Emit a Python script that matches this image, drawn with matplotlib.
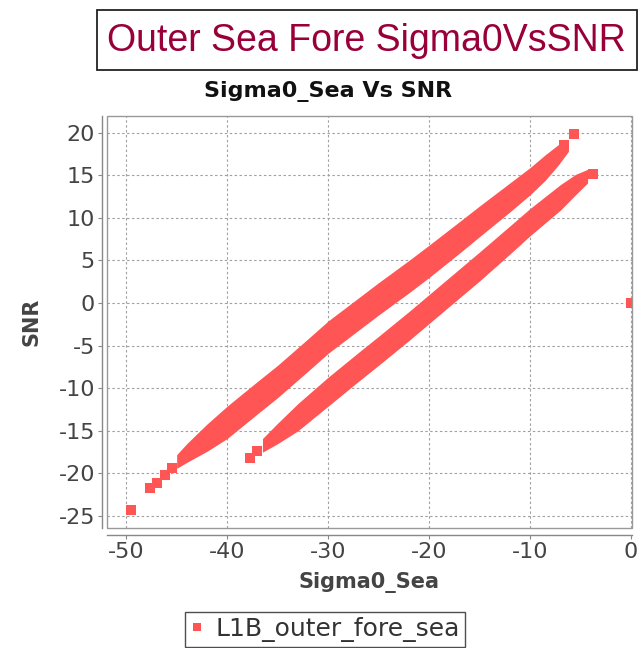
import matplotlib
matplotlib.use("Agg")
import matplotlib.pyplot as plt
from matplotlib.patches import Rectangle
from matplotlib.lines import Line2D

plt.rcParams["axes.unicode_minus"] = False
plt.rcParams["font.family"] = ["DejaVu Sans"]

# ── data ────────────────────────────────────────────────────────────────
# upper (dense) band: visual envelope
upper_x = [-45.0, -44.0, -42.0, -40.0, -37.0, -35.0, -32.0, -30.0, -27.0, -25.0,
           -22.0, -20.0, -17.0, -15.0, -12.0, -10.0, -8.5, -7.2, -6.2]
upper_top = [-17.8, -16.5, -14.2, -12.1, -9.2, -7.3, -4.2, -2.1, 0.6, 2.4,
             5.0, 6.8, 9.55, 11.4, 14.1, 15.9, 17.4, 18.6, 19.0]
upper_bot = [-19.4, -18.7, -17.4, -15.9, -13.0, -11.1, -8.0, -5.9, -3.2, -1.4,
             1.2, 3.0, 5.85, 7.8, 10.7, 12.7, 14.4, 16.2, 17.8]

# lower band: visual envelope
lower_x = [-36.5, -35.0, -33.0, -30.0, -27.0, -25.0, -22.0, -20.0, -17.0, -15.0,
           -12.0, -10.0, -7.0, -5.5, -4.3]
lower_top = [-15.9, -14.1, -11.8, -8.7, -5.8, -3.9, -1.0, 1.0, 4.0, 6.0,
             9.05, 11.1, 13.9, 15.1, 15.7]
lower_bot = [-17.5, -16.5, -15.0, -12.1, -9.2, -7.3, -4.4, -2.4, 0.6, 2.6,
             5.75, 7.9, 10.9, 12.7, 14.1]

# isolated samples (tails, ends and outliers)
pts_x = [-49.5, -47.6, -46.9, -46.2, -45.5, -6.6, -5.6, -37.7, -37.0, -3.8, 0.0]
pts_y = [-24.3, -21.7, -21.1, -20.2, -19.3, 18.5, 19.9, -18.2, -17.4, 15.2, 0.0]

x_ticks = [-50, -40, -30, -20, -10, 0]
y_ticks = [-25, -20, -15, -10, -5, 0, 5, 10, 15, 20]

RED = "#FF5555"
W, H = 643, 648

fig = plt.figure(figsize=(W / 100, H / 100), dpi=100)
ax = fig.add_axes([107 / W, 1 - 528 / H, (632 - 107) / W, (528 - 116) / H])

ax.fill_between(upper_x, upper_bot, upper_top, color=RED, linewidth=0, zorder=3)
ax.fill_between(lower_x, lower_bot, lower_top, color=RED, linewidth=0, zorder=3)
ax.plot(pts_x, pts_y, linestyle="none", marker="s", markersize=7.2,
        markeredgewidth=0, color=RED, zorder=3)

ax.set_xlim(-51.9, 0.1)
ax.set_ylim(-26.4, 21.96)
ax.set_xticks(x_ticks)
ax.set_yticks(y_ticks)
ax.grid(True, color="#a0a0a0", linestyle=(0, (2.2, 2.2)), linewidth=0.8, zorder=1)

for side in ("top", "right"):
    ax.spines[side].set_visible(False)
ax.spines["left"].set_position(("outward", 3.6))
ax.spines["bottom"].set_position(("outward", 5))
for side in ("left", "bottom"):
    ax.spines[side].set_color("#888888")
    ax.spines[side].set_linewidth(1.0)
ax.add_patch(Rectangle((0, 0), 1, 1, transform=ax.transAxes, fill=False,
                       edgecolor="#999999", linewidth=1.0, clip_on=False, zorder=4))

ax.tick_params(direction="out", length=3, width=0.8, color="#888888",
               labelcolor="#444444", labelsize=16, pad=2)
ax.set_xlabel("Sigma0_Sea", fontsize=15, fontweight="bold", color="#444444", labelpad=7)
ax.set_ylabel("SNR", fontsize=15, fontweight="bold", color="#444444", labelpad=12)

# subtitle
fig.text(328 / W, 1 - 92 / H, "Sigma0_Sea Vs SNR", ha="center", va="center",
         fontsize=16, fontweight="bold", color="#111111")

# boxed page title
fig.patches.append(Rectangle((97 / W, 1 - 70 / H), (637 - 97) / W, 60 / H,
                             transform=fig.transFigure, fill=False,
                             edgecolor="#222222", linewidth=1.3))
fig.text(366 / W, 1 - 41 / H, "Outer Sea Fore Sigma0VsSNR", ha="center", va="center",
         fontsize=27, family="Liberation Sans", color="#99003A")

handle = Line2D([], [], linestyle="none", marker="s", markersize=6,
                markeredgewidth=0, color=RED)
leg = fig.legend([handle], ["L1B_outer_fore_sea"], loc="lower center",
                 bbox_to_anchor=(325 / W, 1 / H), frameon=True, fancybox=False,
                 edgecolor="#222222", fontsize=18, handlelength=0.5, handletextpad=0.5,
                 borderpad=0.2, borderaxespad=0, labelcolor="#333333")
leg.get_frame().set_linewidth(1.0)

fig.savefig("out.png", dpi=100)
